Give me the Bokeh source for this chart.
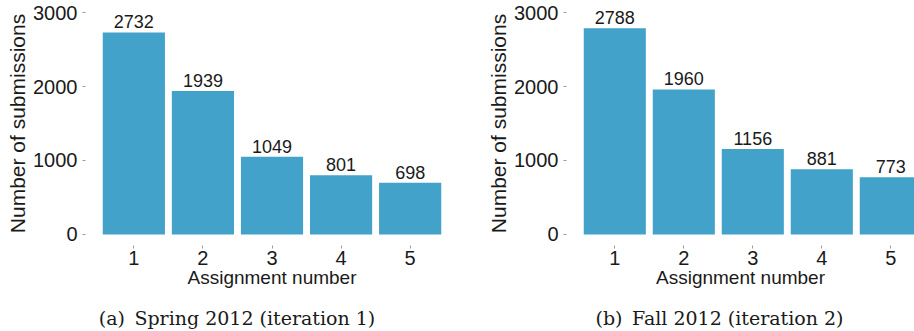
from bokeh.plotting import figure
from bokeh.layouts import row, column
from bokeh.models import Label, FixedTicker, Range1d
from bokeh.embed import file_html
from bokeh.resources import INLINE
from bokeh.core.properties import value

# Submission counts per assignment for the two course iterations
assignments = [1, 2, 3, 4, 5]
spring_counts = [2732, 1939, 1049, 801, 698]
fall_counts = [2788, 1960, 1156, 881, 773]
y_ticks = [0, 1000, 2000, 3000]
captions = ["(a)\u2002Spring 2012 (iteration 1)", "(b)\u2002Fall 2012 (iteration 2)"]

BAR_COLOR = "#43a2ca"
TEXT_COLOR = "#1a1a1a"
SANS = "Liberation Sans"
SERIF = "DejaVu Serif"
CHART_H = 300
CAPTION_H = 31


def make_panel(counts, width, border_left, border_right, x_end):
    p = figure(width=width, height=CHART_H, x_range=(0.3, x_end), y_range=(-150, 3150),
               output_backend="svg", toolbar_location=None,
               min_border_left=border_left, min_border_right=border_right,
               min_border_top=1, min_border_bottom=55)
    p.outline_line_color = None
    p.background_fill_color = "white"
    p.xgrid.visible = False
    p.ygrid.visible = False

    p.vbar(x=assignments, top=counts, bottom=0, width=0.9,
           fill_color=BAR_COLOR, line_color=None)
    p.text(x=assignments, y=counts, text=[str(c) for c in counts],
           text_align="center", text_baseline="bottom", y_offset=-4,
           text_font=value(SANS), text_font_size="18px", text_color=TEXT_COLOR)

    for ax in (p.xaxis[0], p.yaxis[0]):
        ax.axis_line_color = None
        ax.major_tick_in = 0
        ax.major_tick_out = 3
        ax.major_tick_line_color = "#9a9a9a"
        ax.minor_tick_line_color = None
        ax.major_label_text_font = SANS
        ax.major_label_text_font_size = "20px"
        ax.major_label_text_color = TEXT_COLOR
        ax.axis_label_text_font = SANS
        ax.axis_label_text_font_style = "normal"
        ax.axis_label_text_color = TEXT_COLOR

    p.xaxis.ticker = FixedTicker(ticks=assignments)
    p.xaxis.axis_label = "Assignment number"
    p.xaxis.axis_label_text_font_size = "19px"
    p.xaxis.major_label_standoff = 2
    p.xaxis.axis_label_standoff = -1

    p.yaxis.ticker = FixedTicker(ticks=y_ticks)
    p.yaxis.axis_label = "Number of submissions"
    p.yaxis.axis_label_text_font_size = "21px"
    p.yaxis.major_label_standoff = 5
    p.yaxis.axis_label_standoff = 1
    return p


def make_caption(text, width, center_x):
    c = figure(width=width, height=CAPTION_H, x_range=Range1d(0, width),
               y_range=Range1d(0, CAPTION_H), x_axis_type=None, y_axis_type=None,
               output_backend="svg", toolbar_location=None,
               min_border_left=0, min_border_right=0, min_border_top=0, min_border_bottom=0)
    c.outline_line_color = None
    c.add_layout(Label(x=center_x, y=14, text=text, text_align="center",
                       text_baseline="alphabetic", text_font=SERIF,
                       text_font_size="19px", text_color=TEXT_COLOR))
    return c


left = make_panel(spring_counts, 460, 85, 2, 5.7)
right = make_panel(fall_counts, 454, 106, 0, 0.3 + 348 / 69)
cap_left = make_caption(captions[0], 460, 236.5)
cap_right = make_caption(captions[1], 454, 259)

layout = column(row(left, right, spacing=0), row(cap_left, cap_right, spacing=0), spacing=0)
open("out.html", "w").write(file_html(layout, INLINE))
